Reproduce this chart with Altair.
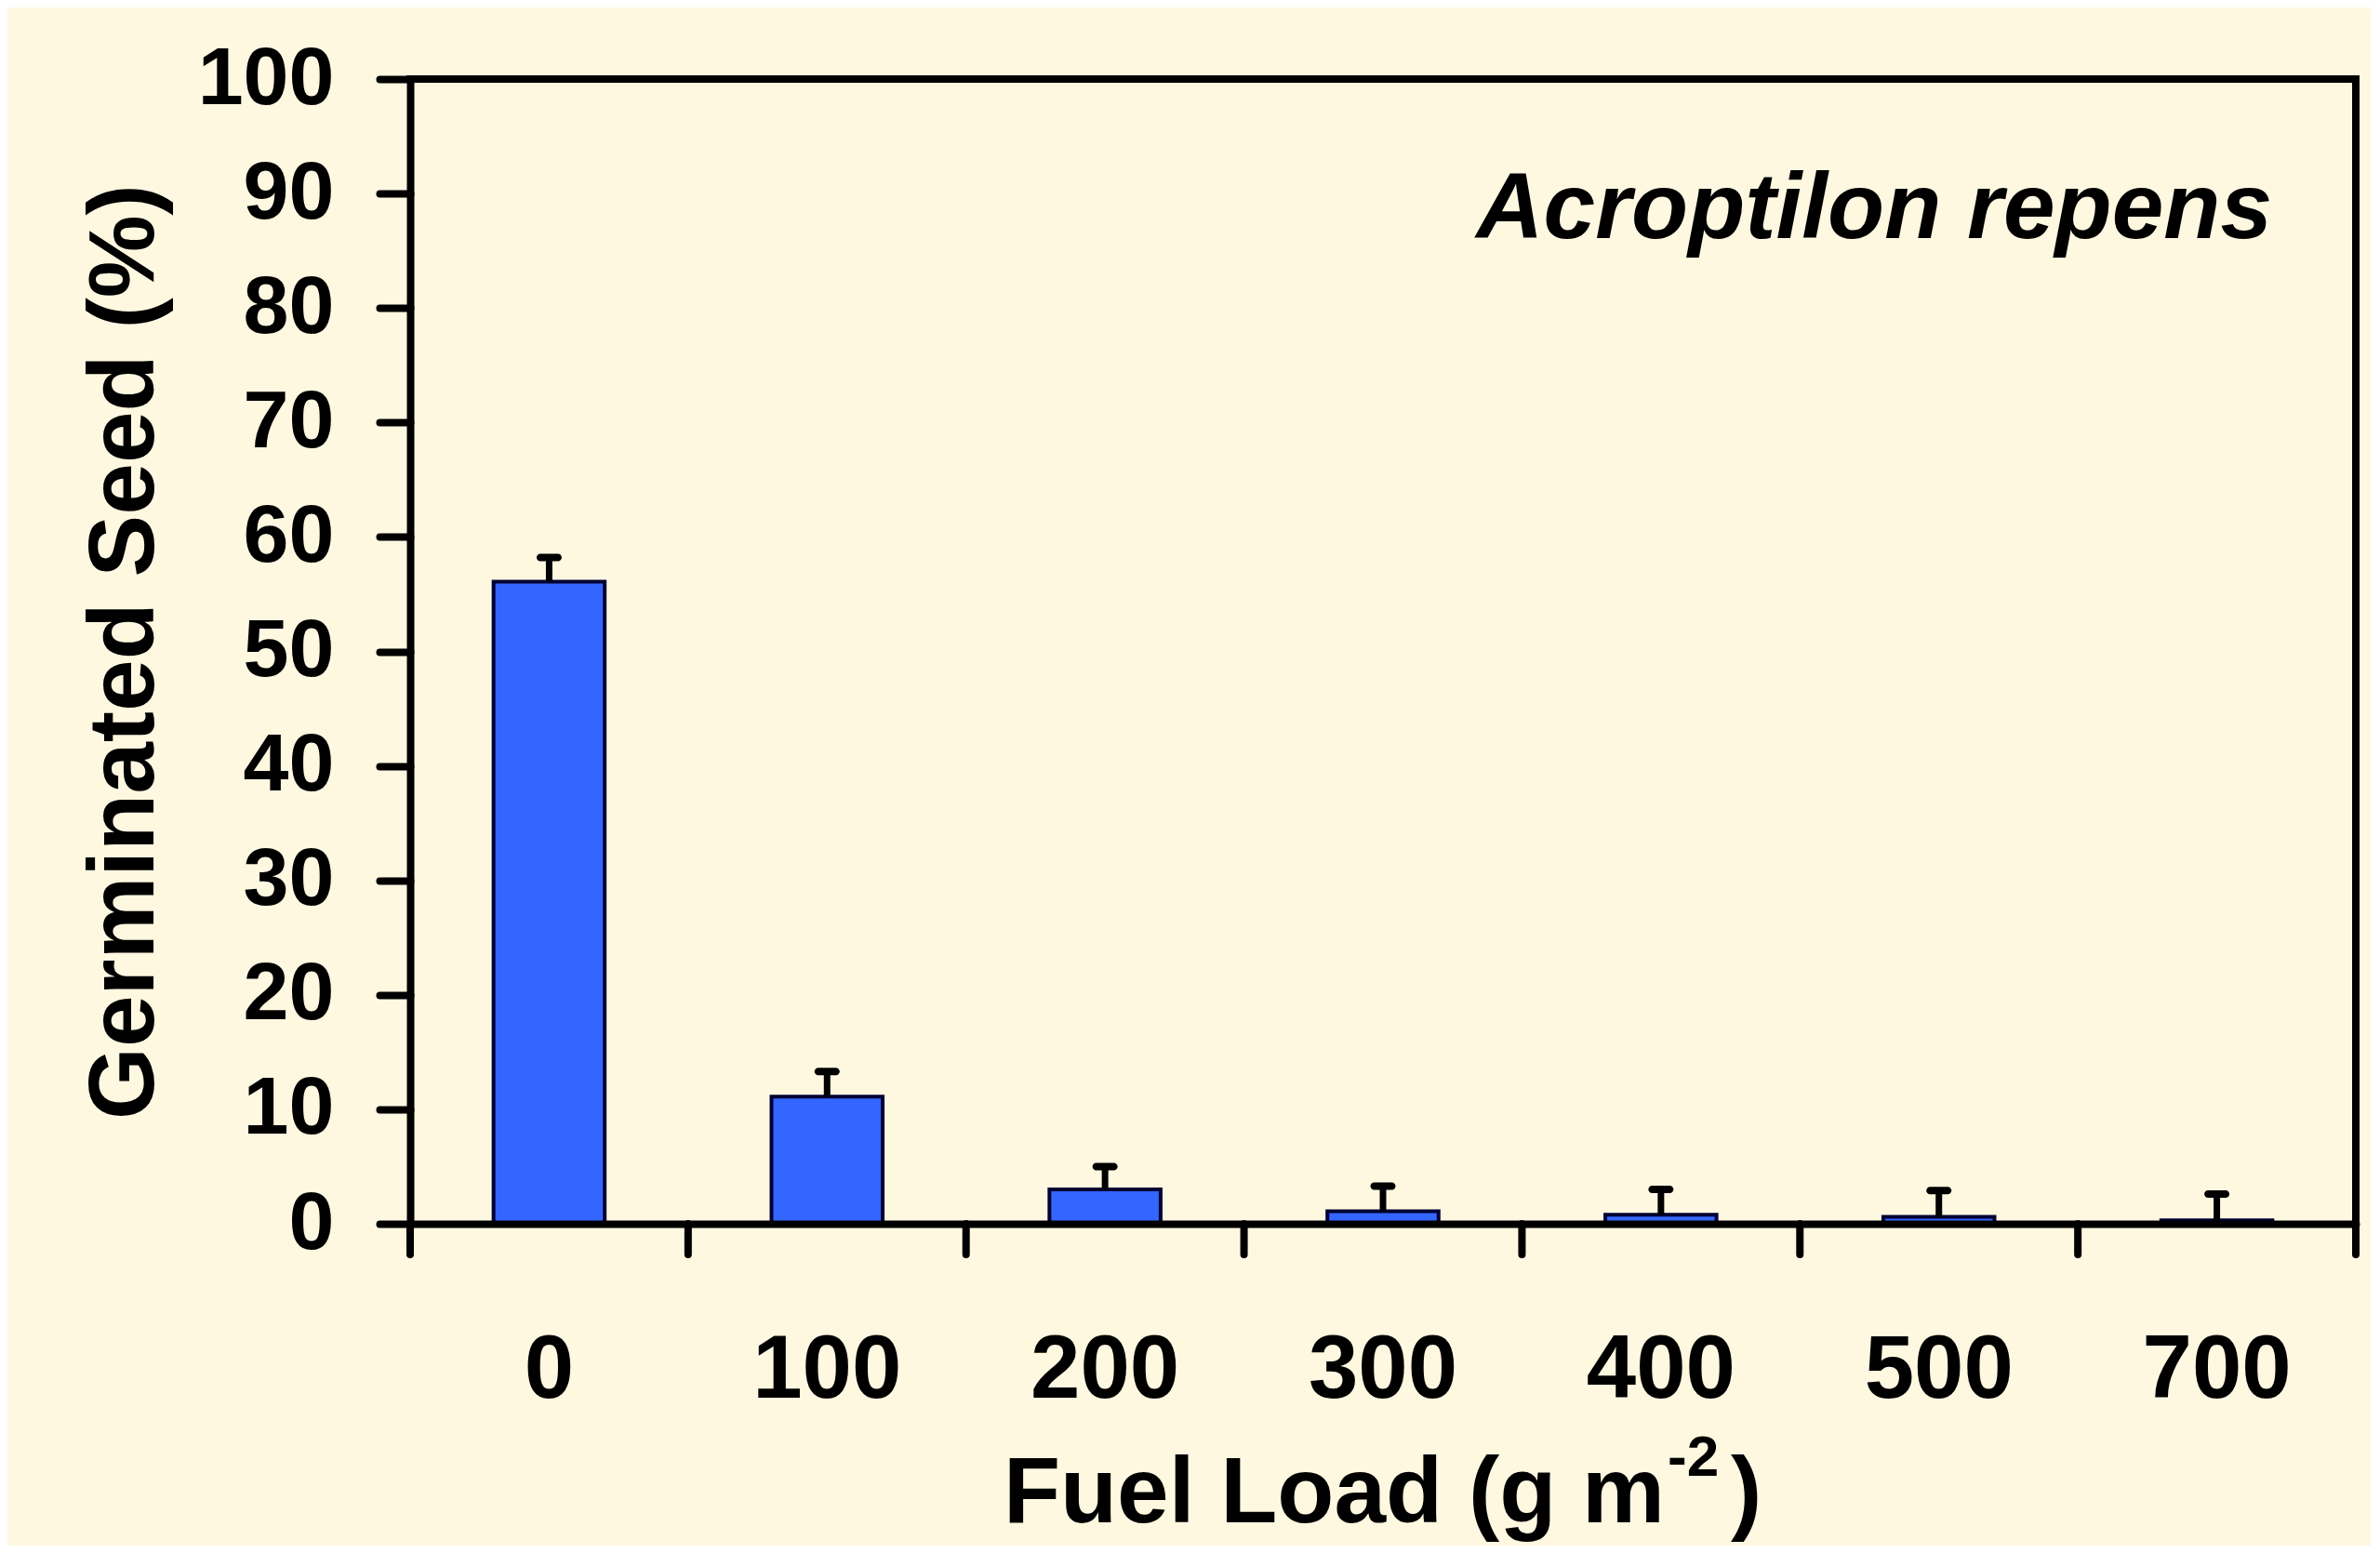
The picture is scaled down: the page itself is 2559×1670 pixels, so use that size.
import altair as alt
import pandas as pd

# ---- data ----
fuel_loads = ["0", "100", "200", "300", "400", "500", "700"]
germinated = [56.1, 11.1, 3.0, 1.1, 0.8, 0.6, 0.3]
std_err = [2.1, 2.2, 2.0, 2.2, 2.2, 2.3, 2.3]
y_ticks = [0, 10, 20, 30, 40, 50, 60, 70, 80, 90, 100]

species_label = "Acroptilon repens"
y_title = "Germinated Seed (%)"
x_title_main = "Fuel Load (g m"
x_title_sup = "-2"
x_title_close = ")"

df = pd.DataFrame({
    "load": fuel_loads,
    "pct": germinated,
    "top": [v + e for v, e in zip(germinated, std_err)],
})
one = pd.DataFrame({"k": [0]})

W, H = 2092, 1231
FONT = "Liberation Sans"
BG = "#FFF8E1"

x_enc = alt.X(
    "load:N",
    sort=fuel_loads,
    scale=alt.Scale(paddingInner=0, paddingOuter=0),
    axis=alt.Axis(
        title=None,
        labelAngle=0,
        labelFont=FONT,
        labelFontWeight="bold",
        labelFontSize=96,
        labelColor="black",
        labelPadding=110,
        ticks=False,
        tickSize=0,
        domainWidth=8,
        domainColor="black",
        domainCap="round",
        zindex=1,
    ),
)
y_enc = alt.Y(
    "pct:Q",
    scale=alt.Scale(domain=[0, 100], nice=False),
    axis=alt.Axis(
        values=y_ticks,
        title=y_title,
        titleFont=FONT,
        titleFontWeight="bold",
        titleFontSize=100,
        titleColor="black",
        titleX=-256,
        titleY=H / 2,
        titleAngle=270,
        titleAlign="center",
        titleBaseline="bottom",
        labelFont=FONT,
        labelFontWeight="bold",
        labelFontSize=88,
        labelColor="black",
        labelPadding=49,
        tickSize=33,
        tickWidth=8,
        tickColor="black",
        tickCap="round",
        domainWidth=8,
        domainColor="black",
        domainCap="round",
        grid=False,
        zindex=1,
    ),
)

base = alt.Chart(df)
single = alt.Chart(one)

bars = base.mark_bar(
    color="#3366FF", stroke="#000033", strokeWidth=4,
    width=alt.RelativeBandSize(0.4),
).encode(x=x_enc, y=y_enc)

err_line = base.mark_rule(color="black", strokeWidth=7).encode(
    x=alt.X("load:N", sort=fuel_loads),
    y=alt.Y("pct:Q"),
    y2="top:Q",
)

err_cap = base.mark_tick(color="black", size=27, thickness=8, cornerRadius=4, opacity=1).encode(
    x=alt.X("load:N", sort=fuel_loads),
    y=alt.Y("top:Q"),
)

x_ticks = base.mark_rule(color="black", strokeWidth=8, strokeCap="round").encode(
    x=alt.X("load:N", sort=fuel_loads, bandPosition=0),
    y=alt.value(H),
    y2=alt.value(H + 33),
)

top_frame = single.mark_rule(color="black", strokeWidth=8, strokeCap="square").encode(
    x=alt.value(0), x2=alt.value(W), y=alt.value(0)
)
right_frame = single.mark_rule(color="black", strokeWidth=8, strokeCap="round").encode(
    x=alt.value(W), y=alt.value(0), y2=alt.value(H + 33)
)

species = single.mark_text(
    font=FONT, fontSize=100, fontWeight="bold", fontStyle="italic",
    align="right", baseline="alphabetic", color="black",
).encode(x=alt.value(2002), y=alt.value(171), text=alt.value(species_label))

xt_main = single.mark_text(
    font=FONT, fontSize=100, fontWeight="bold", align="right",
    baseline="alphabetic", color="black",
).encode(x=alt.value(1349), y=alt.value(1552), text=alt.value(x_title_main))
xt_sup = single.mark_text(
    font=FONT, fontSize=62, fontWeight="bold", align="left",
    baseline="alphabetic", color="black",
).encode(x=alt.value(1352), y=alt.value(1502), text=alt.value(x_title_sup))
xt_close = single.mark_text(
    font=FONT, fontSize=100, fontWeight="bold", align="left",
    baseline="alphabetic", color="black",
).encode(x=alt.value(1420), y=alt.value(1552), text=alt.value(x_title_close))

chart = alt.layer(
    bars, err_line, err_cap, x_ticks, top_frame, right_frame,
    species, xt_main, xt_sup, xt_close,
).properties(
    width=W,
    height=H,
    autosize=alt.AutoSizeParams(type="none"),
    padding={"left": 433, "top": 77, "right": 16, "bottom": 346},
    background=BG,
).configure_view(strokeWidth=0)

chart.save("out.html", embed_options={"renderer": "svg", "actions": False})
